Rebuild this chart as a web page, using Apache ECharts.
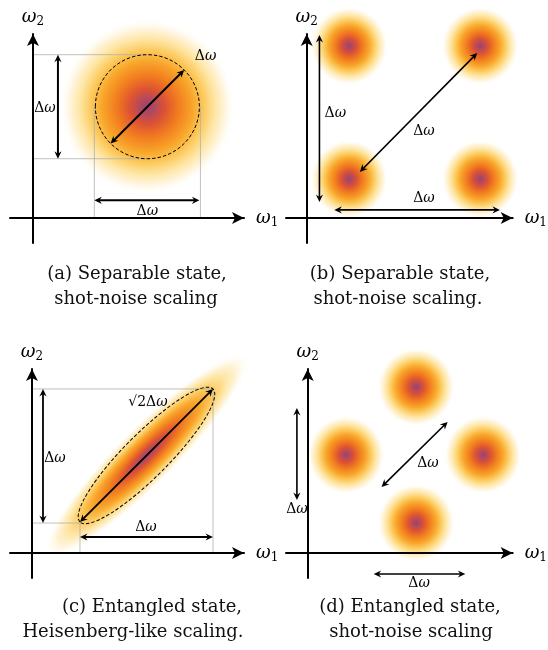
<!DOCTYPE html>
<html><head><meta charset="utf-8">
<script src="https://cdn.jsdelivr.net/npm/echarts@6.0.0/dist/echarts.min.js"></script>
<style>html,body{margin:0;padding:0;background:#fff}#c{width:548px;height:650px}</style>
</head><body><div id="c"></div>
<script>
// ===== Data (in units of the frequency width Δω of each panel) =====
// blobs: [centre ω1, centre ω2, spread along, spread across, tilt deg]
// rings: [centre ω1, centre ω2, semi-axis along, semi-axis across, tilt deg]
// guides / arrows: [ω1 start, ω2 start, ω1 end, ω2 end]
// labels: [ω1, ω2, text]

// (a) separable state, one broad peak
const aBlobs  = [[1.10, 1.07, 0.84, 0.84, 0]];
const aRings  = [[1.10, 1.07, 0.50, 0.50, 0]];
const aGuides = [[0, 1.57, 1.10, 1.57], [0, 0.57, 1.10, 0.57], [0.59, 1.07, 0.59, 0], [1.61, 1.07, 1.61, 0]];
const aArrows = [[0.24, 0.57, 0.24, 1.57], [0.59, 0.17, 1.60, 0.17], [0.746, 0.716, 1.454, 1.424]];
const aLabels = [[0.115, 1.05, 'Δω'], [1.10, 0.065, 'Δω'], [1.66, 1.55, 'Δω']];

// (b) separable state, four peaks
const bBlobs  = [[0.256, 1.024, 0.232, 0.232, 0], [1.048, 1.024, 0.232, 0.232, 0], [0.256, 0.232, 0.232, 0.232, 0], [1.048, 0.232, 0.232, 0.232, 0]];
const bRings  = [];
const bGuides = [];
const bArrows = [[0.077, 0.095, 0.077, 1.089], [0.167, 0.048, 1.167, 0.048], [0.321, 0.274, 1.030, 0.982]];
const bLabels = [[0.173, 0.625, 'Δω'], [0.708, 0.518, 'Δω'], [0.708, 0.119, 'Δω']];

// (c) entangled state, correlated ridge
const cBlobs  = [[0.861, 0.733, 1.06, 0.215, 45]];
const cRings  = [[0.861, 0.733, 0.707, 0.165, 45]];
const cGuides = [[0, 1.233, 1.361, 1.233], [0, 0.225, 0.361, 0.225], [0.361, 0.233, 0.361, 0], [1.361, 1.233, 1.361, 0]];
const cArrows = [[0.083, 0.225, 0.083, 1.233], [0.361, 0.12, 1.361, 0.12], [0.361, 0.233, 1.361, 1.233]];
const cLabels = [[0.173, 0.714, 'Δω'], [0.857, 0.195, 'Δω'], [0.872, 1.135, '√2Δω']];

// (d) entangled state, four peaks
const dBlobs  = [[1.183, 1.785, 0.42, 0.42, 0], [0.419, 1.054, 0.42, 0.42, 0], [1.914, 1.054, 0.42, 0.42, 0], [1.183, 0.323, 0.42, 0.42, 0]];
const dRings  = [];
const dGuides = [];
const dArrows = [[-0.118, 0.570, -0.118, 1.559], [0.720, -0.226, 1.720, -0.226], [0.806, 0.710, 1.527, 1.409]];
const dLabels = [[-0.118, 0.470, 'Δω'], [1.215, -0.323, 'Δω'], [1.312, 0.968, 'Δω']];

// axis extents (Δω units)
const xRanges = [[-0.221, 2.029], [-0.125, 1.244], [-0.165, 1.594], [-0.237, 2.237]];
const yRanges = [[-0.240, 1.769], [-0.149, 1.095], [-0.188, 1.383], [-0.269, 1.978]];

const captions = [
  ['(a) Separable state,', 'shot-noise scaling'],
  ['(b) Separable state,', 'shot-noise scaling.'],
  ['(c) Entangled state,', 'Heisenberg-like scaling.'],
  ['(d) Entangled state,', 'shot-noise scaling']
];

// ===== Layout / style =====
const FONT = 'DejaVu Serif';
const grids = [
  {left: 10, top: 34, width: 234, height: 209},
  {left: 286, top: 34, width: 230, height: 209},
  {left: 10, top: 369, width: 234, height: 209},
  {left: 286, top: 369, width: 230, height: 209}
];
const arrowWidths = [2, 1.6, 1.8, 1.6];
const captionPos = [
  [[137, 274], [136, 299]],
  [[400, 274], [398, 299]],
  [[152, 607], [133, 632]],
  [[410, 607], [411, 632]]
];

function blobFill() {
  return {type: 'radial', x: 0.5, y: 0.5, r: 0.5, global: false, colorStops: [
    {offset: 0, color: '#9e426f'},
    {offset: 0.08, color: '#b04860'},
    {offset: 0.2, color: '#dc5233'},
    {offset: 0.36, color: '#f27d1f'},
    {offset: 0.52, color: '#f8a62b'},
    {offset: 0.64, color: '#fcc85a'},
    {offset: 0.77, color: '#fee5a2'},
    {offset: 0.89, color: '#fff5de'},
    {offset: 1, color: 'rgba(255,253,245,0)'}
  ]};
}

function renderBlob(params, api) {
  const c = api.coord([api.value(0), api.value(1)]);
  const s = api.size([api.value(2), api.value(3)]);
  return {type: 'circle', x: c[0], y: c[1], rotation: api.value(4) * Math.PI / 180,
    scaleX: s[0] / 100, scaleY: s[1] / 100, shape: {cx: 0, cy: 0, r: 100},
    style: {fill: blobFill()}};
}
function renderRing(params, api) {
  const c = api.coord([api.value(0), api.value(1)]);
  const s = api.size([api.value(2), api.value(3)]);
  return {type: 'ellipse', x: c[0], y: c[1], rotation: api.value(4) * Math.PI / 180,
    shape: {cx: 0, cy: 0, rx: s[0], ry: s[1]},
    style: {fill: 'transparent', stroke: '#000', lineWidth: 1, lineDash: [3.5, 2]}};
}
function renderGuide(params, api) {
  const p1 = api.coord([api.value(0), api.value(1)]);
  const p2 = api.coord([api.value(2), api.value(3)]);
  return {type: 'line', shape: {x1: p1[0], y1: p1[1], x2: p2[0], y2: p2[1]},
    style: {stroke: '#b0b0b0', lineWidth: 0.8}};
}
function makeArrowRenderer(lw) {
  return function (params, api) {
    const p1 = api.coord([api.value(0), api.value(1)]);
    const p2 = api.coord([api.value(2), api.value(3)]);
    const dx = p2[0] - p1[0], dy = p2[1] - p1[1], L = Math.hypot(dx, dy);
    const ux = dx / L, uy = dy / L;
    const hl = 7.5, hw = 3.6, ins = 5;
    function head(t, u) {
      const bx = t[0] - u[0] * hl, by = t[1] - u[1] * hl;
      const nx = -u[1], ny = u[0];
      return {type: 'polygon', shape: {points: [[t[0], t[1]], [bx + nx * hw, by + ny * hw],
        [t[0] - u[0] * ins, t[1] - u[1] * ins], [bx - nx * hw, by - ny * hw]]},
        style: {fill: '#000'}};
    }
    return {type: 'group', children: [
      {type: 'line', shape: {x1: p1[0] + ux * 3, y1: p1[1] + uy * 3, x2: p2[0] - ux * 3, y2: p2[1] - uy * 3},
        style: {stroke: '#000', lineWidth: lw}},
      head(p2, [ux, uy]), head(p1, [-ux, -uy])
    ]};
  };
}
function mathRich(str) {
  return str.split('ω').map(function (p) { return p ? '{n|' + p + '}' : ''; }).join('{i|ω}');
}
const labelRich = {
  n: {fontFamily: FONT, fontSize: 14, color: '#000'},
  i: {fontFamily: FONT, fontSize: 14, fontStyle: 'italic', color: '#000'}
};
function makeLabelRenderer(arr) {
  return function (params, api) {
    const c = api.coord([api.value(0), api.value(1)]);
    return {type: 'text', x: c[0], y: c[1],
      style: {text: mathRich(arr[params.dataIndex][2]), rich: labelRich,
        align: 'center', verticalAlign: 'middle', textAlign: 'center', textVerticalAlign: 'middle'}};
  };
}

const panelBlobs = [aBlobs, bBlobs, cBlobs, dBlobs];
const panelRings = [aRings, bRings, cRings, dRings];
const panelGuides = [aGuides, bGuides, cGuides, dGuides];
const panelArrows = [aArrows, bArrows, cArrows, dArrows];
const panelLabels = [aLabels, bLabels, cLabels, dLabels];

const axisNameRich = {
  w: {fontFamily: FONT, fontSize: 18, fontStyle: 'italic', lineHeight: 22, verticalAlign: 'middle', color: '#000'},
  s: {fontFamily: FONT, fontSize: 12, lineHeight: 16, verticalAlign: 'bottom', color: '#000'}
};
function axisBase(i, dim) {
  const r = dim === 'x' ? xRanges[i] : yRanges[i];
  return {
    type: 'value', gridIndex: i, min: r[0], max: r[1], z: 10,
    name: dim === 'x' ? '{w|ω}{s|1}' : '{w|ω}{s|2}',
    nameLocation: 'end', nameGap: dim === 'x' ? 12 : 6,
    nameTextStyle: {rich: axisNameRich},
    axisLine: {show: true, onZero: true, lineStyle: {color: '#000', width: 2},
      symbol: ['none', 'arrow'], symbolSize: [9, 12]},
    axisTick: {show: false}, axisLabel: {show: false}, splitLine: {show: false}
  };
}

const series = [];
for (let i = 0; i < 4; i++) {
  const common = {type: 'custom', coordinateSystem: 'cartesian2d', xAxisIndex: i, yAxisIndex: i, silent: true, clip: false};
  series.push(Object.assign({}, common, {name: 'peaks' + i, z: 1, data: panelBlobs[i], renderItem: renderBlob}));
  series.push(Object.assign({}, common, {name: 'guides' + i, z: 2, data: panelGuides[i], renderItem: renderGuide}));
  series.push(Object.assign({}, common, {name: 'rings' + i, z: 3, data: panelRings[i], renderItem: renderRing}));
  series.push(Object.assign({}, common, {name: 'arrows' + i, z: 4, data: panelArrows[i], renderItem: makeArrowRenderer(arrowWidths[i])}));
  series.push(Object.assign({}, common, {name: 'labels' + i, z: 5, data: panelLabels[i].map(function (d) { return [d[0], d[1]]; }), renderItem: makeLabelRenderer(panelLabels[i])}));
}

const graphic = [];
captions.forEach(function (lines, i) {
  lines.forEach(function (t, j) {
    graphic.push({type: 'text', x: captionPos[i][j][0], y: captionPos[i][j][1], silent: true,
      style: {text: t, fontFamily: FONT, fontSize: 18, fill: '#111',
        align: 'center', verticalAlign: 'middle', textAlign: 'center', textVerticalAlign: 'middle'}});
  });
});

const chart = echarts.init(document.getElementById('c'), null, {renderer: 'canvas'});
chart.setOption({
  animation: false,
  backgroundColor: '#fff',
  textStyle: {fontFamily: FONT},
  grid: grids,
  xAxis: [0, 1, 2, 3].map(function (i) { return axisBase(i, 'x'); }),
  yAxis: [0, 1, 2, 3].map(function (i) { return axisBase(i, 'y'); }),
  series: series,
  graphic: graphic
});
</script></body></html>
